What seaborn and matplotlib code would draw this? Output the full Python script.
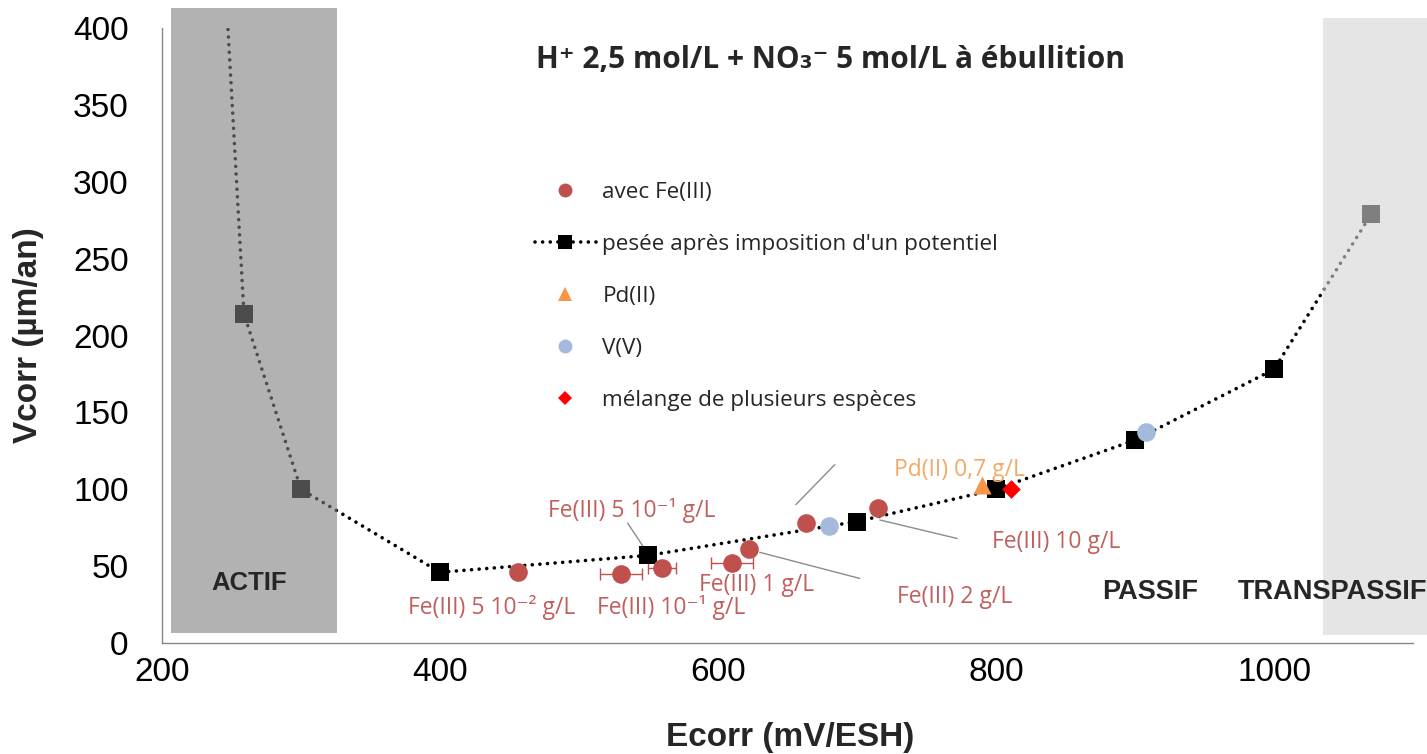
import matplotlib
matplotlib.use("Agg")
import matplotlib.pyplot as plt
from matplotlib.lines import Line2D
from matplotlib.patches import Rectangle
import seaborn as sns
import pandas as pd

# -------------------------
# Data
# -------------------------
# pesee apres imposition d'un potentiel (first point is above the frame)
pot_e = [240, 259, 300, 400, 550, 700, 800, 900, 1000, 1070]
pot_v = [520, 214, 100, 46, 57, 79, 100, 132, 178, 279]

# avec Fe(III)
fe_e = [456, 530, 560, 610, 622, 663, 715]
fe_v = [46, 45, 49, 52, 61, 78, 88]
fe_err = [0, 15, 10, 15, 0, 0, 0]

# Pd(II)
pd_e = [790]
pd_v = [103]

# V(V)
vv_e = [680, 908]
vv_v = [76, 137]

# melange de plusieurs especes
mix_e = [811]
mix_v = [100]

fe_labels = ["Fe(III) 5 10\u207b\u00b2 g/L", "Fe(III) 10\u207b\u00b9 g/L", "Fe(III) 5 10\u207b\u00b9 g/L",
             "Fe(III) 1 g/L", "Fe(III) 2 g/L", "Fe(III) 10 g/L"]
fe_label_pos = [(437, 23), (566, 23), (538, 86), (628, 38), (770, 30), (843, 66)]
pd_label = "Pd(II) 0,7 g/L"

x_ticks = [200, 400, 600, 800, 1000]
y_ticks = [0, 50, 100, 150, 200, 250, 300, 350, 400]

# -------------------------
# Style
# -------------------------
sns.set_theme(style="white")
plt.rcParams['font.family'] = ['Liberation Sans', 'DejaVu Sans']
calibri = ['Open Sans', 'DejaVu Sans']

RED = "#c0504d"
LBLUE = "#a5b9dc"
ORANGE = "#f79646"
TXT_RED = "#c0605e"

fig = plt.figure(figsize=(14.27, 7.54), dpi=100)
ax = fig.add_axes([0.1135, 0.1472, 0.8767, 0.8156])

df_pot = pd.DataFrame({"E": pot_e, "V": pot_v})
sns.lineplot(data=df_pot, x="E", y="V", sort=False, estimator=None, ax=ax,
             color="black", linewidth=2.6, linestyle=(0, (0.01, 2.1)),
             dash_capstyle="round", marker="s", markersize=13.5,
             markeredgewidth=0, zorder=3)

ax.errorbar(fe_e, fe_v, xerr=fe_err, fmt="none", ecolor=RED, elinewidth=1,
            capsize=4, capthick=1, zorder=2)
sns.scatterplot(x=fe_e, y=fe_v, ax=ax, color=RED, marker="o", s=180,
                linewidth=0, zorder=4)
sns.scatterplot(x=vv_e, y=vv_v, ax=ax, color=LBLUE, marker="o", s=180,
                linewidth=0, zorder=4)
sns.scatterplot(x=pd_e, y=pd_v, ax=ax, color=ORANGE, marker="^", s=170,
                linewidth=0, zorder=4)
sns.scatterplot(x=mix_e, y=mix_v, ax=ax, color="#ff0000", marker="D", s=90,
                linewidth=0, zorder=5)

# domain shading (semi transparent, drawn over the data)
ax.add_patch(Rectangle((206.5, 6.5), 119.5, 406.5, facecolor="#808080",
                       alpha=0.6, edgecolor="none", zorder=10, clip_on=False))
ax.add_patch(Rectangle((1035, 5), 120, 401.5, facecolor="#d5d5d5",
                       alpha=0.6, edgecolor="none", zorder=10, clip_on=False))

ax.text(263, 39, "ACTIF", fontsize=18.5, fontweight="bold", ha="center", va="center", zorder=11)
ax.text(911, 33, "PASSIF", fontsize=19.5, fontweight="bold", ha="center", va="center", zorder=11)
ax.text(974, 33, "TRANSPASSIF", fontsize=19.5, fontweight="bold", ha="left", va="center",
        zorder=11, clip_on=False)

# data labels and leader lines
for lab, (lx, ly) in zip(fe_labels, fe_label_pos):
    ax.text(lx, ly, lab, fontsize=16.5, color=TXT_RED, ha="center", va="center", family=calibri)
ax.text(774, 112.5, pd_label, fontsize=16.5, color="#f3a968", ha="center", va="center", family=calibri)
leaders = [((535, 78), (546, 63)), ((630, 59), (702, 42)),
           ((716.5, 80), (772, 68)), ((656, 90), (684, 116))]
for (x0, y0), (x1, y1) in leaders:
    ax.plot([x0, x1], [y0, y1], color="#8c8c8c", lw=1, zorder=1)

ax.text(680.6, 379, "H\u207a 2,5 mol/L + NO\u2083\u207b 5 mol/L \u00e0 \u00e9bullition",
        fontsize=21.5, fontweight="bold", ha="center", va="center", family=calibri)

# legend
handles = [
    Line2D([], [], color=RED, marker="o", linestyle="none", markersize=10, markeredgewidth=0),
    Line2D([], [], color="black", marker="s", linestyle=(0, (0.01, 2.1)), lw=2.6,
           dash_capstyle="round", markersize=10, markeredgewidth=0),
    Line2D([], [], color=ORANGE, marker="^", linestyle="none", markersize=10, markeredgewidth=0),
    Line2D([], [], color=LBLUE, marker="o", linestyle="none", markersize=10, markeredgewidth=0),
    Line2D([], [], color="#ff0000", marker="D", linestyle="none", markersize=7, markeredgewidth=0),
]
labels = ["avec Fe(III)", "pes\u00e9e apr\u00e8s imposition d'un potentiel", "Pd(II)", "V(V)",
          "m\u00e9lange de plusieurs esp\u00e8ces"]
ax.legend(handles, labels, loc="upper left", bbox_to_anchor=(0.3749, 0.759),
          bbox_transform=fig.transFigure, frameon=False, borderpad=0, borderaxespad=0,
          handlelength=2.7, handletextpad=0.3, labelspacing=1.38,
          prop={"family": calibri, "size": 16.2})

# axes
ax.set_xlim(200, 1100)
ax.set_ylim(0, 400)
ax.set_xticks(x_ticks)
ax.set_yticks(y_ticks)
ax.tick_params(axis="both", labelsize=24, length=8, width=1, color="#868686",
               direction="out", colors="black")
ax.tick_params(axis="x", pad=2)
ax.tick_params(axis="y", pad=16)
for sp in ["top", "right"]:
    ax.spines[sp].set_visible(False)
for sp in ["left", "bottom"]:
    ax.spines[sp].set_color("#868686")
    ax.spines[sp].set_linewidth(1)
for t in ax.get_xticklines() + ax.get_yticklines():
    t.set_color("#868686")

ax.set_xlabel("Ecorr (mV/ESH)", fontsize=24, fontweight="bold")
ax.set_ylabel("Vcorr (\u00b5m/an)", fontsize=24, fontweight="bold")
ax.xaxis.set_label_coords(0.502, -0.128)
ax.yaxis.set_label_coords(-0.094, 0.5)

fig.savefig("out.png", dpi=100)
